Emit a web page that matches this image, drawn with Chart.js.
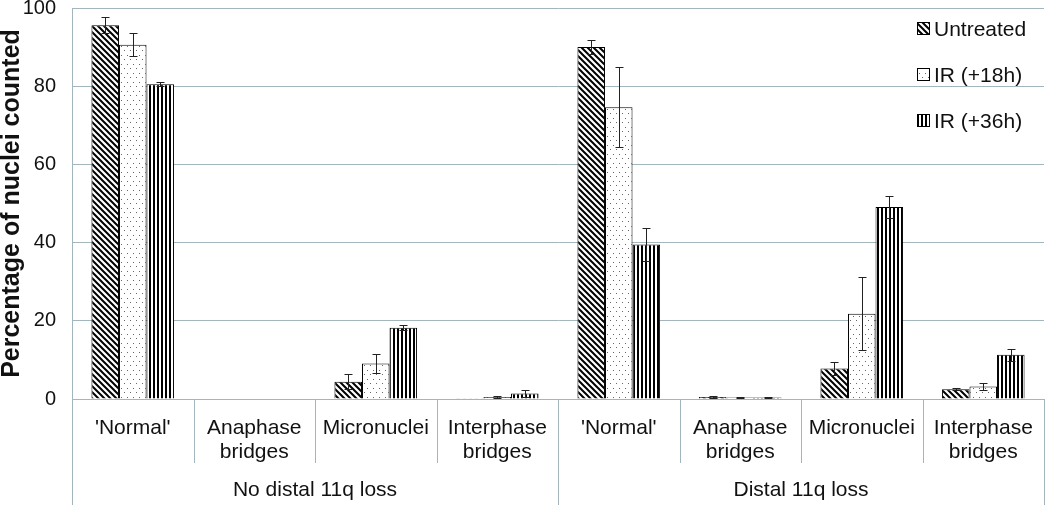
<!DOCTYPE html>
<html><head><meta charset="utf-8">
<script src="https://cdn.jsdelivr.net/npm/chart.js@4.4.0/dist/chart.umd.min.js"></script>
<style>html,body{margin:0;padding:0;background:#fff}canvas{display:block}</style>
</head><body>
<canvas id="c" width="1050" height="505"></canvas>
<script>
const categories = [["'Normal'"],["Anaphase","bridges"],["Micronuclei"],["Interphase","bridges"],["'Normal'"],["Anaphase","bridges"],["Micronuclei"],["Interphase","bridges"]];
const groups = ["No distal 11q loss","Distal 11q loss"];
const seriesNames = ["Untreated","IR (+18h)","IR (+36h)"];
const untreated = [95.6, 0.1, 4.4, 0.2, 90.0, 0.5, 7.8, 2.5];
const untreatedErr = [2.0, 0, 1.9, 0, 1.8, 0.2, 1.7, 0.3];
const ir18 = [90.6, 0, 9.1, 0.5, 74.6, 0.4, 21.8, 3.2];
const ir18Err = [3.0, 0, 2.5, 0.2, 10.2, 0.2, 9.3, 1.0];
const ir36 = [80.5, 0, 18.2, 1.4, 39.5, 0.4, 49.1, 11.3];
const ir36Err = [0.5, 0, 0.6, 0.9, 4.3, 0.2, 2.7, 1.5];
const yTicks = [0, 20, 40, 60, 80, 100];

const GRID = '#a3b5bd';
const FONT = "'Liberation Sans', Arial, sans-serif";

function mkPattern(kind) {
  const t = document.createElement('canvas');
  const ctx = t.getContext('2d');
  if (kind === 'diag') {
    t.width = 6; t.height = 6;
    ctx.fillStyle = '#fff'; ctx.fillRect(0,0,6,6);
    ctx.strokeStyle = '#000'; ctx.lineWidth = 2.0;
    ctx.beginPath();
    ctx.moveTo(-2,-2); ctx.lineTo(8,8);
    ctx.moveTo(-8,-2); ctx.lineTo(2,8);
    ctx.moveTo(4,-2); ctx.lineTo(14,8);
    ctx.stroke();
  } else if (kind === 'dots') {
    t.width = 6; t.height = 9;
    ctx.fillStyle = '#fff'; ctx.fillRect(0,0,6,9);
    ctx.fillStyle = '#666';
    ctx.fillRect(1,1,1,1);
    ctx.fillRect(4,5,1,1);
  } else {
    t.width = 4; t.height = 4;
    ctx.fillStyle = '#fff'; ctx.fillRect(0,0,4,4);
    ctx.fillStyle = '#000';
    ctx.fillRect(1,0,2,4);
  }
  return ctx.createPattern(t, 'repeat');
}
const ctx0 = document.getElementById('c').getContext('2d');
const patterns = [mkPattern('diag'), mkPattern('dots'), mkPattern('vert')];
const values = [untreated, ir18, ir36];
const errs = [untreatedErr, ir18Err, ir36Err];

const errorBars = {
  id: 'errorBars',
  afterDatasetsDraw(chart) {
    const ctx = chart.ctx, y = chart.scales.y;
    ctx.save();
    ctx.strokeStyle = '#222'; ctx.lineWidth = 1;
    chart.data.datasets.forEach((ds, di) => {
      const meta = chart.getDatasetMeta(di);
      meta.data.forEach((bar, i) => {
        const e = errs[di][i];
        if (!e) return;
        const v = ds.data[i];
        const x = Math.round(bar.x) + 0.5;
        const yt = Math.round(y.getPixelForValue(v + e)) + 0.5;
        const yb = Math.round(y.getPixelForValue(Math.max(0, v - e))) + 0.5;
        ctx.beginPath();
        ctx.moveTo(x, yt); ctx.lineTo(x, yb);
        ctx.moveTo(x - 4, yt); ctx.lineTo(x + 4, yt);
        ctx.moveTo(x - 4, yb); ctx.lineTo(x + 4, yb);
        ctx.stroke();
      });
    });
    ctx.restore();
  }
};

const separators = {
  id: 'separators',
  afterDraw(chart) {
    const ctx = chart.ctx, xs = chart.scales.x, ca = chart.chartArea;
    const n = categories.length;
    ctx.save();
    ctx.strokeStyle = GRID; ctx.lineWidth = 1;
    for (let i = 0; i <= n; i++) {
      let px;
      if (i === 0) px = ca.left;
      else if (i === n) px = ca.right;
      else px = (xs.getPixelForValue(i - 1) + xs.getPixelForValue(i)) / 2;
      px = Math.round(px) + 0.5;
      const full = (i % 4 === 0);
      ctx.beginPath();
      ctx.moveTo(px, ca.bottom);
      ctx.lineTo(px, full ? chart.height : ca.bottom + 64);
      ctx.stroke();
    }
    ctx.restore();
  }
};

const legendPlugin = {
  id: 'customLegend',
  afterDraw(chart) {
    const ctx = chart.ctx;
    ctx.save();
    ctx.font = '21px ' + FONT;
    ctx.textBaseline = 'middle';
    chart.data.datasets.forEach((ds, i) => {
      const yy = 29 + i * 46;
      const bx = 917, bs = 13;
      ctx.fillStyle = patterns[i];
      ctx.fillRect(bx, yy - 7, bs, bs);
      ctx.strokeStyle = '#000'; ctx.lineWidth = 1;
      ctx.strokeRect(bx + 0.5, yy - 6.5, bs - 1, bs - 1);
      ctx.fillStyle = '#111';
      ctx.fillText(ds.label, 934, yy + 1);
    });
    ctx.restore();
  }
};

new Chart(ctx0, {
  type: 'bar',
  data: {
    labels: categories,
    datasets: seriesNames.map((name, i) => ({
      label: name,
      data: values[i],
      backgroundColor: patterns[i],
      borderColor: '#000',
      borderWidth: 1,
      categoryPercentage: 0.68,
      barPercentage: 1.0
    }))
  },
  options: {
    responsive: false,
    animation: false,
    layout: { padding: { left: 0, right: 2, top: 0, bottom: 0 } },
    plugins: { legend: { display: false }, tooltip: { enabled: false } },
    scales: {
      x: {
        type: 'category',
        position: 'bottom',
        grid: { display: false, drawTicks: false },
        border: { display: false },
        ticks: { color: '#111', font: { family: FONT, size: 21, lineHeight: 1.15 }, padding: 17, maxRotation: 0, autoSkip: false },
        afterFit: s => { s.height = 66; }
      },
      x2: {
        type: 'category',
        position: 'bottom',
        labels: groups,
        grid: { display: false, drawTicks: false },
        border: { display: false },
        ticks: { color: '#111', font: { family: FONT, size: 21 }, padding: 13, maxRotation: 0 },
        afterFit: s => { s.height = 40; }
      },
      y: {
        min: 0, max: 100,
        afterBuildTicks: s => { s.ticks = yTicks.map(v => ({ value: v })); },
        grid: { color: GRID, drawTicks: false },
        border: { display: true, color: GRID },
        ticks: { color: '#111', font: { family: FONT, size: 20 }, padding: 16 },
        title: { display: true, text: 'Percentage of nuclei counted', color: '#111', font: { family: FONT, size: 25, weight: 'bold', lineHeight: 1.0 }, padding: { top: 0, bottom: 0 } },
        afterFit: s => { s.width = 72; s.paddingTop = 8; s.paddingBottom = 0; }
      }
    }
  },
  plugins: [errorBars, separators, legendPlugin]
});
</script>
</body></html>
